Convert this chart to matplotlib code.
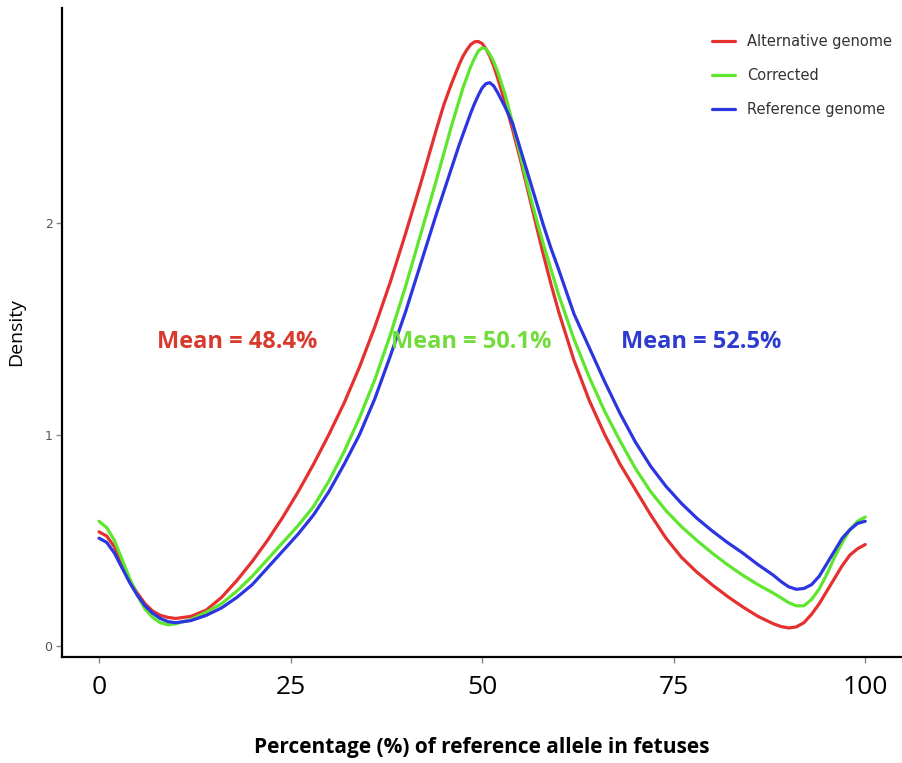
import matplotlib
matplotlib.use('Agg')
from matplotlib import pyplot as plt

# percentage of reference allele (shared x grid, finer where the curves bend)
pct = [0, 1, 2, 3, 4, 5, 6, 7, 8, 9, 10,
       12, 14, 16, 18, 20, 22, 24, 26, 28, 30, 32, 34, 36, 38, 40, 42, 44,
       45, 46, 47, 47.5, 48, 48.5, 49, 49.5, 50, 50.5, 51, 51.5, 52, 52.5, 53,
       54, 55, 56, 57, 58, 59, 60,
       62, 64, 66, 68, 70, 72, 74, 76, 78, 80, 82, 84, 86, 88,
       89, 90, 91, 92, 93, 94, 95, 96, 97, 98, 99, 100]

alt_density = [0.54, 0.52, 0.47, 0.39, 0.31, 0.25, 0.20, 0.165, 0.145, 0.135, 0.13,
               0.14, 0.17, 0.23, 0.31, 0.40, 0.50, 0.61, 0.73, 0.86, 1.00, 1.15, 1.32, 1.51,
               1.72, 1.95, 2.19, 2.44,
               2.56, 2.66, 2.75, 2.79, 2.82, 2.845, 2.858, 2.86, 2.85, 2.825, 2.79, 2.745,
               2.69, 2.63, 2.57,
               2.44, 2.30, 2.15, 2.00, 1.85, 1.71, 1.58,
               1.35, 1.16, 1.00, 0.86, 0.74, 0.62, 0.51, 0.42, 0.35, 0.29, 0.235, 0.185, 0.14,
               0.105,
               0.092, 0.085, 0.09, 0.11, 0.15, 0.20, 0.26, 0.32, 0.38, 0.43, 0.46, 0.48]

corr_density = [0.59, 0.56, 0.50, 0.41, 0.32, 0.24, 0.175, 0.135, 0.11, 0.10, 0.105,
                0.125, 0.16, 0.20, 0.26, 0.33, 0.41, 0.49, 0.57, 0.66, 0.78, 0.92, 1.08, 1.26,
                1.47, 1.70, 1.95, 2.20,
                2.33, 2.46, 2.58, 2.64, 2.69, 2.74, 2.78, 2.815, 2.83, 2.825, 2.80, 2.765,
                2.72, 2.665, 2.61,
                2.47, 2.32, 2.17, 2.03, 1.90, 1.78, 1.66,
                1.45, 1.27, 1.11, 0.97, 0.84, 0.73, 0.64, 0.565, 0.50, 0.44, 0.385, 0.335, 0.29,
                0.25,
                0.228, 0.205, 0.19, 0.19, 0.22, 0.27, 0.34, 0.42, 0.49, 0.55, 0.59, 0.61]

ref_density = [0.51, 0.49, 0.44, 0.37, 0.30, 0.24, 0.19, 0.155, 0.13, 0.115, 0.11,
               0.12, 0.145, 0.18, 0.23, 0.29, 0.37, 0.45, 0.53, 0.62, 0.73, 0.86, 1.00, 1.17,
               1.37, 1.58, 1.81, 2.04,
               2.15, 2.26, 2.37, 2.42, 2.47, 2.52, 2.565, 2.605, 2.64, 2.66, 2.665, 2.65,
               2.62, 2.585, 2.55,
               2.47, 2.35, 2.23, 2.11, 1.99, 1.88, 1.78,
               1.57, 1.41, 1.25, 1.10, 0.965, 0.85, 0.755, 0.675, 0.605, 0.545, 0.49, 0.44,
               0.385, 0.335,
               0.305, 0.28, 0.268, 0.272, 0.29, 0.33, 0.39, 0.45, 0.51, 0.55, 0.58, 0.59]

series_names = ['Alternative genome', 'Corrected', 'Reference genome']
series_colors = ['#e53030', '#5ee62e', '#2b35e0']
mean_labels = ['Mean = 48.4%', 'Mean = 50.1%', 'Mean = 52.5%']
mean_pos = [(18.0, 1.44), (48.6, 1.44), (78.6, 1.44)]
text_colors = ['#d83a2e', '#72dd3a', '#2d3bd0']

fig = plt.figure(figsize=(9.02, 7.63), dpi=100)
ax = fig.add_axes([0.069, 0.139, 0.931, 0.851])

for dens, name, col in zip([alt_density, corr_density, ref_density], series_names, series_colors):
    ax.plot(pct, dens, color=col, lw=2.3, label=name, solid_capstyle='round',
            solid_joinstyle='round')

for lab, (mx, my), col in zip(mean_labels, mean_pos, text_colors):
    ax.text(mx, my, lab, color=col, fontsize=17, fontweight='bold', family='Open Sans',
            ha='center', va='center')

ax.set_xlim(-4.8, 104.8)
ax.set_ylim(-0.052, 3.02)
ax.set_xticks([0, 25, 50, 75, 100])
ax.set_yticks([0, 1, 2])
ax.tick_params(axis='x', labelsize=19, labelcolor='black', color='#888888', length=4, width=1, pad=9)
ax.tick_params(axis='y', labelsize=9, labelcolor='#555555', color='#888888', length=4, width=1, pad=3)
for t in ax.get_xticklabels():
    t.set_family('Open Sans')

for s in ['top', 'right']:
    ax.spines[s].set_visible(False)
for s in ['left', 'bottom']:
    ax.spines[s].set_linewidth(1.6)
    ax.spines[s].set_color('black')

ax.set_xlabel('Percentage (%) of reference allele in fetuses', fontsize=15, fontweight='bold',
              family='Open Sans', labelpad=27)
ax.set_ylabel('Density', fontsize=14, family='Open Sans', labelpad=14)

ax.legend(loc='upper right', bbox_to_anchor=(1.0, 0.975), frameon=False, fontsize=10.5,
          handlelength=1.6, labelspacing=1.3, labelcolor='#333333', borderaxespad=0.3)

fig.savefig('out.png', dpi=100)
